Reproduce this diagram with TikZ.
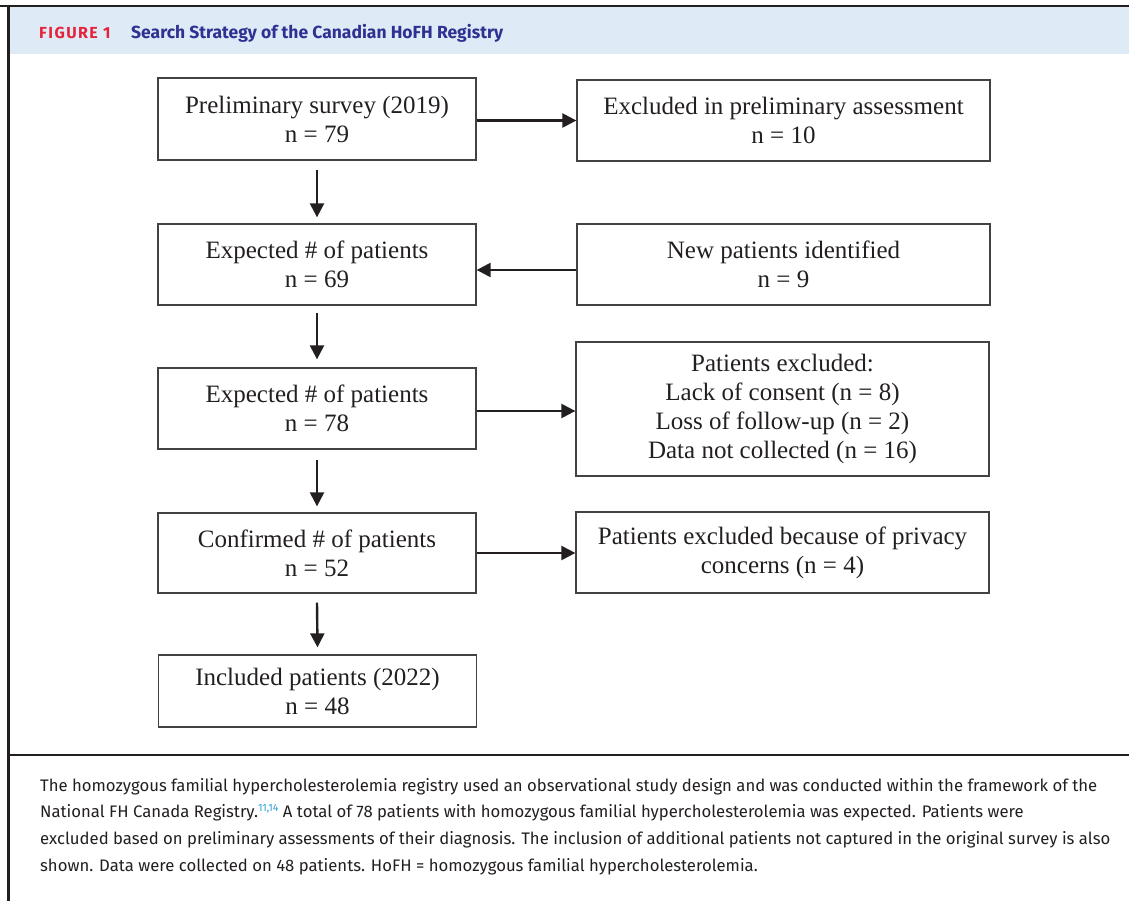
\documentclass[tikz,border=0pt]{standalone}
\usepackage{fontspec}
\setmainfont{Liberation Serif}
\newfontfamily\capfont{Fira Sans}
\newfontfamily\figfont[LetterSpace=9]{Fira Sans}
\usetikzlibrary{arrows.meta}
\definecolor{bandblue}{HTML}{DEEAF6}
\definecolor{figred}{HTML}{E5243B}
\definecolor{titleblue}{HTML}{2E3192}
\definecolor{refblue}{HTML}{2A9FD8}
\definecolor{ink}{HTML}{231F20}
\tikzset{
  fbox/.style={draw=ink!85, line width=1.3pt, text=ink, align=center,
    font=\fontsize{25}{29}\selectfont, inner sep=0pt},
  arr/.style={draw=ink, line width=2.4pt, -{Triangle[length=14pt,width=14pt]}},
  capline/.style={anchor=base west, inner sep=0pt, text=ink,
    font=\capfont\fontsize{16.7}{20}\selectfont},
}
\begin{document}
\begin{tikzpicture}[x=1pt,y=-1pt]
\useasboundingbox (0,0) rectangle (1129,901);
% frame
\fill[bandblue] (9,7) rectangle (1129,54);
\draw[ink, line width=2pt] (0,6) -- (1129,6);
\draw[ink, line width=2.5pt] (8.5,5) -- (8.5,901);
\draw[ink, line width=2.5pt] (8.5,755) -- (1129,755);
% header
\node[anchor=base west, inner sep=0pt, text=figred, font=\figfont\bfseries\fontsize{16}{18}\selectfont] (fig) at (39,38.5) {FIGURE 1};
\node[anchor=base west, inner sep=0pt, text=titleblue, font=\capfont\bfseries\fontsize{17.5}{20}\selectfont] (title) at (131,38.5) {Search Strategy of the Canadian HoFH Registry};
% boxes left
\node[fbox, minimum width=318pt, minimum height=82pt] (b1) at (317,119) {Preliminary survey (2019)\\n = 79};
\node[fbox, minimum width=318pt, minimum height=81pt] (b2) at (317,264.5) {Expected \# of patients\\n = 69};
\node[fbox, minimum width=318pt, minimum height=81pt] (b3) at (317,408.5) {Expected \# of patients\\n = 78};
\node[fbox, minimum width=318pt, minimum height=80pt] (b4) at (317,553) {Confirmed \# of patients\\n = 52};
\node[fbox, minimum width=318pt, minimum height=72pt] (b5) at (317.5,691) {Included patients (2022)\\n = 48};
% boxes right
\node[fbox, minimum width=413pt, minimum height=81pt] (r1) at (783.5,120.5) {Excluded in preliminary assessment\\n = 10};
\node[fbox, minimum width=413pt, minimum height=81pt] (r2) at (783.5,264.5) {New patients identified\\n = 9};
\node[fbox, minimum width=413pt, minimum height=134pt] (r3) at (782.5,409) {Patients excluded:\\Lack of consent (n = 8)\\Loss of follow-up (n = 2)\\Data not collected (n = 16)};
\node[fbox, minimum width=413pt, minimum height=81pt] (r4) at (782.5,552.5) {Patients excluded because of privacy\\concerns (n = 4)};
% vertical arrows
\draw[arr] ([yshift=-9pt]b1.south) -- ([yshift=6pt]b2.north);
\draw[arr] ([yshift=-7pt]b2.south) -- ([yshift=8pt]b3.north);
\draw[arr] ([yshift=-10pt]b3.south) -- ([yshift=6pt]b4.north);
\draw[arr] ([yshift=-9pt]b4.south) -- ([yshift=7pt]b5.north);
% horizontal arrows
\draw[arr] (b1.east|-r1.west) -- (r1.west);
\draw[arr] ([yshift=-5.5pt]r2.west) -- ([yshift=-5.5pt]b2.east);
\draw[arr] ([yshift=-2.5pt]b3.east) -- ([yshift=-2.5pt]b3.east-|r3.west);
\draw[arr] (b4.east) -- (b4.east-|r4.west);
% caption
\node[capline] (c1) at (40,791) {The homozygous familial hypercholesterolemia registry used an observational study design and was conducted within the framework of the};
\node[capline] (c2) at (40,817.7) {National FH Canada Registry.\textcolor{refblue}{\raisebox{6.5pt}{\fontsize{10.5}{12}\selectfont 11,14}} A total of 78 patients with homozygous familial hypercholesterolemia was expected. Patients were};
\node[capline] (c3) at (40,844.4) {excluded based on preliminary assessments of their diagnosis. The inclusion of additional patients not captured in the original survey is also};
\node[capline] (c4) at (40,871) {shown. Data were collected on 48 patients. HoFH = homozygous familial hypercholesterolemia.};
\end{tikzpicture}
\end{document}
